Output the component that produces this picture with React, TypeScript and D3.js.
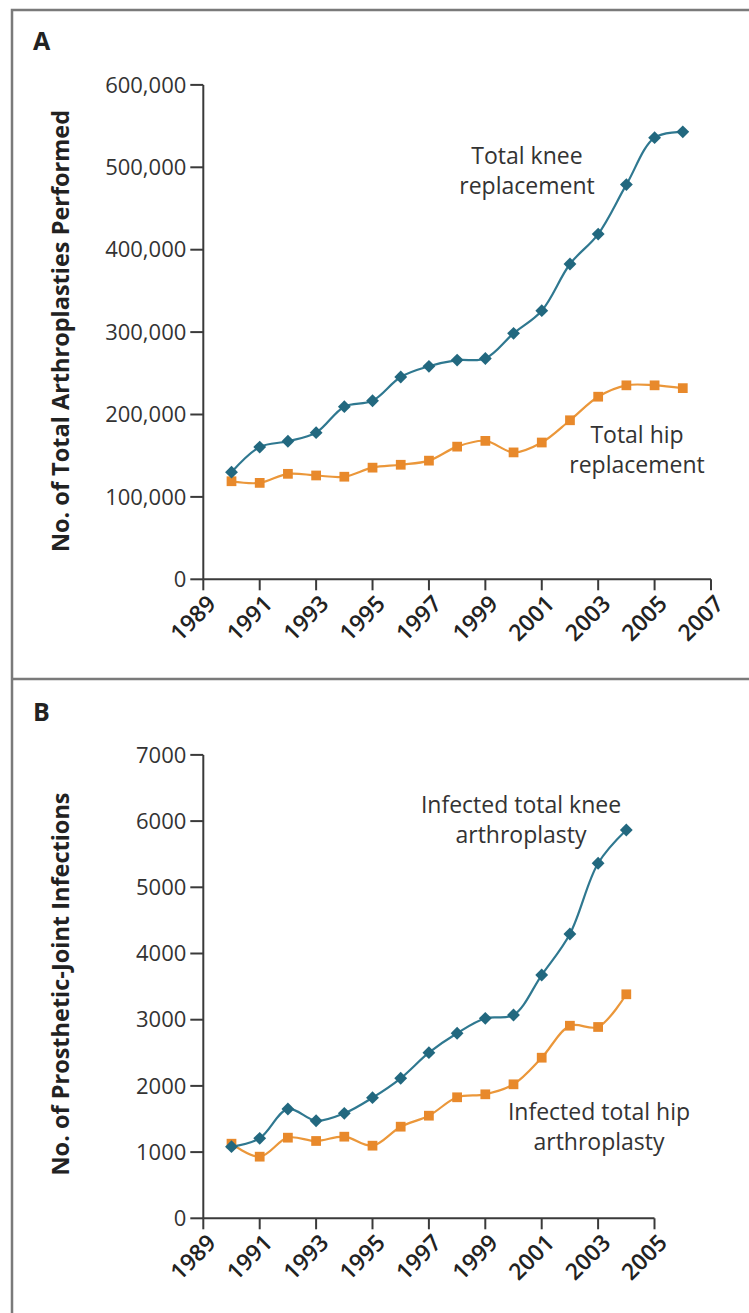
import * as d3 from "d3";

// Panel A: total arthroplasties per year
const yearsA = [1990, 1991, 1992, 1993, 1994, 1995, 1996, 1997, 1998, 1999, 2000, 2001, 2002, 2003, 2004, 2005, 2006];
const kneeReplacements = [130000, 160500, 167500, 178000, 209500, 216700, 245500, 258500, 266000, 268000, 298500, 326000, 382600, 419000, 479000, 536000, 543000];
const hipReplacements = [119000, 117000, 128000, 126000, 124500, 135500, 139000, 144000, 161000, 168000, 154000, 166000, 193000, 221600, 235400, 235400, 232000];
const xTicksA = [1989, 1991, 1993, 1995, 1997, 1999, 2001, 2003, 2005, 2007];
const yTicksA = [0, 100000, 200000, 300000, 400000, 500000, 600000];

// Panel B: prosthetic-joint infections per year
const yearsB = [1990, 1991, 1992, 1993, 1994, 1995, 1996, 1997, 1998, 1999, 2000, 2001, 2002, 2003, 2004];
const kneeInfections = [1082, 1208, 1651, 1474, 1586, 1822, 2115, 2502, 2795, 3021, 3071, 3675, 4295, 5363, 5866];
const hipInfections = [1127, 931, 1218, 1168, 1233, 1097, 1384, 1550, 1828, 1873, 2024, 2426, 2909, 2890, 3384];
const xTicksB = [1989, 1991, 1993, 1995, 1997, 1999, 2001, 2003, 2005];
const yTicksB = [0, 1000, 2000, 3000, 4000, 5000, 6000, 7000];

const FONT = "'Open Sans', 'Noto Sans', sans-serif";
const TEAL_LINE = "#2f7890";
const TEAL_MARK = "#22687f";
const ORANGE_LINE = "#eb973a";
const ORANGE_MARK = "#e8892b";
const AXIS = "#3a3a3a";

type Note = { lines: string[]; x: number; y: number };

type PanelProps = {
  letter: string;
  letterY: number;
  title: string;
  titleY: number;
  years: number[];
  knee: number[];
  hip: number[];
  xTicks: number[];
  yTicks: number[];
  yFmt: (v: number) => string;
  xRange: [number, number];
  yRange: [number, number];
  kneeNote: Note;
  hipNote: Note;
};

const Panel = (p: PanelProps) => {
  const x = d3.scaleLinear().domain([p.xTicks[0], p.xTicks[p.xTicks.length - 1]]).range(p.xRange);
  const y = d3.scaleLinear().domain([p.yTicks[0], p.yTicks[p.yTicks.length - 1]]).range(p.yRange);
  const line = d3
    .line<number>()
    .x((_, i) => x(p.years[i]))
    .y((d) => y(d))
    .curve(d3.curveCatmullRom.alpha(0.5));

  const x0 = p.xRange[0];
  const y0 = p.yRange[0];
  const diamond = d3.symbol(d3.symbolDiamond2, 105)();
  const square = d3.symbol(d3.symbolSquare, 95)();

  const note = (n: Note, key: string) => (
    <text key={key} x={n.x} y={n.y} textAnchor="middle" fontSize={23} fill="#333" fontFamily={FONT}>
      {n.lines.map((l, i) => (
        <tspan key={i} x={n.x} dy={i === 0 ? 0 : 30}>
          {l}
        </tspan>
      ))}
    </text>
  );

  return (
    <g>
      <text x={33} y={p.letterY} fontSize={25} fontWeight={700} fill="#222" fontFamily={FONT}>
        {p.letter}
      </text>
      <text
        transform={`translate(60,${p.titleY}) rotate(-90)`}
        textAnchor="middle"
        dominantBaseline="central"
        fontSize={23.5}
        fontWeight={700}
        fill="#222"
        fontFamily={FONT}
      >
        {p.title}
      </text>

      {/* axes */}
      <line x1={x0} x2={x0} y1={p.yRange[1]} y2={y0} stroke={AXIS} strokeWidth={2} />
      <line x1={x0} x2={p.xRange[1]} y1={y0} y2={y0} stroke={AXIS} strokeWidth={2} />
      {p.yTicks.map((t) => (
        <g key={"y" + t}>
          <line x1={x0 - 13} x2={x0} y1={y(t)} y2={y(t)} stroke={AXIS} strokeWidth={2} />
          <text x={x0 - 17} y={y(t)} dy="0.35em" textAnchor="end" fontSize={22} fill="#333" fontFamily={FONT}>
            {p.yFmt(t)}
          </text>
        </g>
      ))}
      {p.xTicks.map((t) => (
        <g key={"x" + t}>
          <line x1={x(t)} x2={x(t)} y1={y0} y2={y0 + 11} stroke={AXIS} strokeWidth={2} />
          <text
            transform={`translate(${x(t) + 14},${y0 + 26}) rotate(-45)`}
            textAnchor="end"
            fontSize={23}
            fontWeight={600}
            fill="#222"
            fontFamily={FONT}
          >
            {t}
          </text>
        </g>
      ))}

      {/* series */}
      <path d={line(p.hip) ?? ""} fill="none" stroke={ORANGE_LINE} strokeWidth={2.2} />
      <path d={line(p.knee) ?? ""} fill="none" stroke={TEAL_LINE} strokeWidth={2.2} />
      {p.hip.map((v, i) => (
        <path key={"h" + i} d={square ?? ""} transform={`translate(${x(p.years[i])},${y(v)})`} fill={ORANGE_MARK} />
      ))}
      {p.knee.map((v, i) => (
        <path key={"k" + i} d={diamond ?? ""} transform={`translate(${x(p.years[i])},${y(v)})`} fill={TEAL_MARK} />
      ))}

      {note(p.kneeNote, "kn")}
      {note(p.hipNote, "hn")}
    </g>
  );
};

export default function App() {
  const comma = d3.format(",");
  return (
    <svg
      width={749}
      height={1313}
      style={{ position: "absolute", left: 0, top: 0, background: "#fff" }}
    >
      <rect x={0} y={0} width={749} height={1313} fill="#fff" />
      <rect x={12} y={10} width={760} height={1330} fill="none" stroke="#7a7a7a" strokeWidth={2.5} />
      <line x1={12} x2={749} y1={679} y2={679} stroke="#7a7a7a" strokeWidth={2.5} />

      <Panel
        letter="A"
        letterY={50}
        title="No. of Total Arthroplasties Performed"
        titleY={331}
        years={yearsA}
        knee={kneeReplacements}
        hip={hipReplacements}
        xTicks={xTicksA}
        yTicks={yTicksA}
        yFmt={(v) => comma(v)}
        xRange={[203.3, 711]}
        yRange={[579.3, 84.9]}
        kneeNote={{ lines: ["Total knee", "replacement"], x: 527, y: 164 }}
        hipNote={{ lines: ["Total hip", "replacement"], x: 637, y: 443 }}
      />
      <Panel
        letter="B"
        letterY={721}
        title="No. of Prosthetic-Joint Infections"
        titleY={984}
        years={yearsB}
        knee={kneeInfections}
        hip={hipInfections}
        xTicks={xTicksB}
        yTicks={yTicksB}
        yFmt={(v) => String(v)}
        xRange={[203.3, 654.5]}
        yRange={[1218.3, 754.9]}
        kneeNote={{ lines: ["Infected total knee", "arthroplasty"], x: 521, y: 813 }}
        hipNote={{ lines: ["Infected total hip", "arthroplasty"], x: 599, y: 1120 }}
      />
    </svg>
  );
}
